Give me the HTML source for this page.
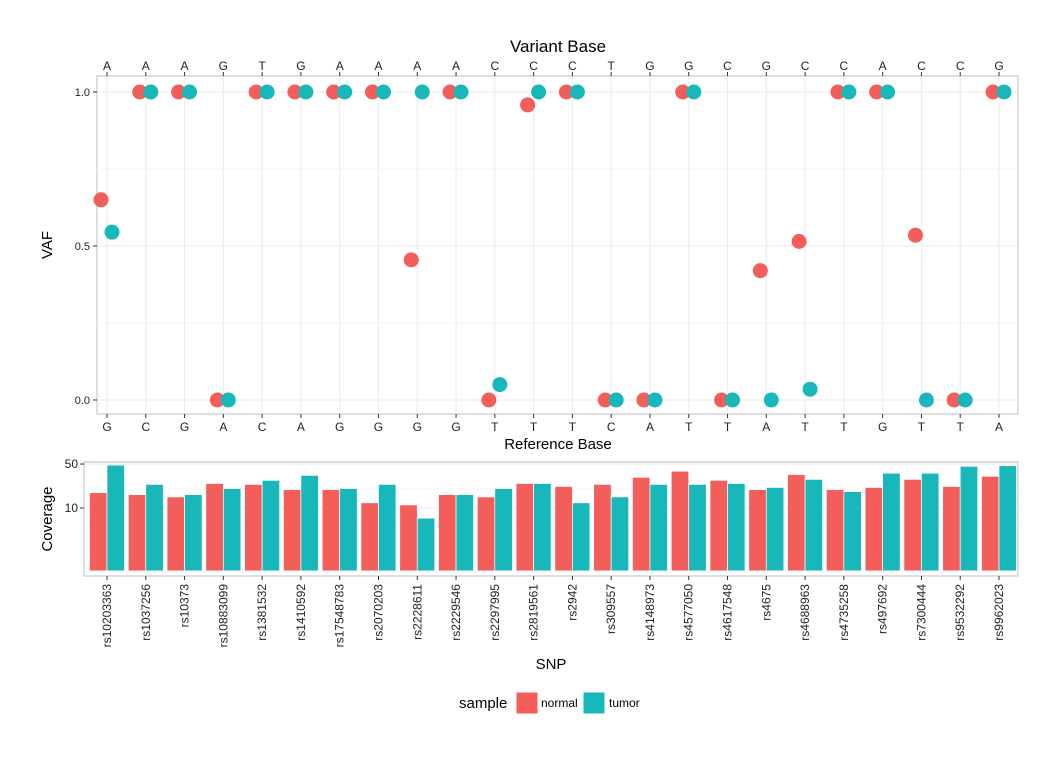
<!DOCTYPE html>
<html><head><meta charset="utf-8"><style>
body{margin:0;background:#fff;font-family:"Liberation Sans",sans-serif}
svg text{font-family:"Liberation Sans",sans-serif}
</style></head><body>
<svg id="c" width="1056" height="768"></svg>
<script>
const snps=["rs10203363","rs1037256","rs10373","rs10883099","rs1381532","rs1410592","rs17548783","rs2070203","rs2228611","rs2229546","rs2297995","rs2819561","rs2942","rs309557","rs4148973","rs4577050","rs4617548","rs4675","rs4688963","rs4735258","rs497692","rs7300444","rs9532292","rs9962023"];
const varBase=["A","A","A","G","T","G","A","A","A","A","C","C","C","T","G","G","C","G","C","C","A","C","C","G"];
const refBase=["G","C","G","A","C","A","G","G","G","G","T","T","T","C","A","T","T","A","T","T","G","T","T","A"];
const vafNormal=[0.65,1,1,0,1,1,1,1,0.455,1,0,0.958,1,0,0,1,0,0.42,0.515,1,1,0.535,0,1];
const vafTumor=[0.545,1,1,0,1,1,1,1,1,1,0.05,1,1,0,0,1,0,0,0.035,1,1,0,0,1];
const covNormal=[17.5,16.3,15,24.5,23.7,19.6,19.6,12.1,11.2,16.3,15,24.5,22,23.7,30.7,38.5,27.5,19.6,34,19.6,21.2,28.5,22,31.9];
const covTumor=[48,23.7,16.3,20.4,27.5,33,20.4,23.7,6.9,16.3,20.4,24.5,12.1,15,23.7,23.7,24.5,21.2,28.5,18.2,35.7,35.7,46,47];
const vafTicks=[0,0.5,1];
const covTicks=[10,50];
const RED="#F35E5A",TEAL="#17B7BA";
const svg=document.getElementById('c');const NS="http://www.w3.org/2000/svg";
function el(t,a,p){const e=document.createElementNS(NS,t);for(const k in a)e.setAttribute(k,a[k]);(p||svg).appendChild(e);return e;}
function tx(s,a,p){const e=el('text',a,p);e.textContent=s;return e;}
const xc=i=>107+i*(999-107)/23;
const yV=v=>400-v*308;
const yC=v=>508-62.9*Math.log10(v/10);
// top panel
const topG=el('g',{});


el('rect',{x:97,y:76,width:921,height:338,fill:"#fff",stroke:"#bdbdbd"},topG);
[0.25,0.75].forEach(v=>el('line',{x1:97,x2:1018,y1:yV(v),y2:yV(v),stroke:"#f5f5f5"},topG));
vafTicks.forEach(v=>{el('line',{x1:97,x2:1018,y1:yV(v),y2:yV(v),stroke:"#ebebeb"},topG);
 el('line',{x1:93,x2:97,y1:yV(v),y2:yV(v),stroke:"#333"},topG);
 const t=tx(v.toFixed(1),{x:90,y:yV(v)+4,'text-anchor':'end','font-size':11,fill:"#222"},topG);
 
 });
snps.forEach((s,i)=>{const x=xc(i);
 el('line',{x1:x,x2:x,y1:76,y2:414,stroke:"#ebebeb"},topG);
 el('line',{x1:x,x2:x,y1:72,y2:76,stroke:"#333"},topG);
 el('line',{x1:x,x2:x,y1:414,y2:418,stroke:"#333"},topG);
 const a=tx(varBase[i],{x:x,y:70,'text-anchor':'middle','font-size':12,fill:"#222"},topG);
 
 
 const b=tx(refBase[i],{x:x,y:431,'text-anchor':'middle','font-size':12,fill:"#222"},topG);
 
 
});
snps.forEach((s,i)=>{const x=xc(i);
 const p=el('circle',{cx:x-6,cy:yV(vafNormal[i]),r:7.5,fill:RED},topG);
 
 
 const q=el('circle',{cx:x+5,cy:yV(vafTumor[i]),r:7.5,fill:TEAL},topG);
 
 
});
let t=tx("Variant Base",{x:558,y:52,'text-anchor':'middle','font-size':17,fill:"#000"});


t=tx("Reference Base",{x:558,y:449,'text-anchor':'middle','font-size':15,fill:"#000"});


t=tx("VAF",{x:52,y:245,'text-anchor':'middle','font-size':15,fill:"#000",transform:"rotate(-90 52 245)"});


// bottom panel
const botG=el('g',{});


el('rect',{x:84,y:462,width:934,height:114,fill:"#fff",stroke:"#bdbdbd"},botG);
[1,5,20].forEach(v=>el('line',{x1:84,x2:1018,y1:yC(v),y2:yC(v),stroke:"#f5f5f5"},botG));
covTicks.forEach(v=>{el('line',{x1:84,x2:1018,y1:yC(v),y2:yC(v),stroke:"#ebebeb"},botG);
 el('line',{x1:80,x2:84,y1:yC(v),y2:yC(v),stroke:"#333"},botG);
 const t=tx(String(v),{x:78,y:yC(v)+4,'text-anchor':'end','font-size':12,fill:"#222"},botG);
 
 });
const base=yC(1);
snps.forEach((s,i)=>{const x=xc(i);
 const r1=el('rect',{x:x-17.5,y:yC(covNormal[i]),width:17.5,height:base-yC(covNormal[i]),fill:RED,stroke:"#fff","stroke-width":0.7},botG);
 
 
 const r2=el('rect',{x:x,y:yC(covTumor[i]),width:17.5,height:base-yC(covTumor[i]),fill:TEAL,stroke:"#fff","stroke-width":0.7},botG);
 
 
 el('line',{x1:x,x2:x,y1:576,y2:580,stroke:"#333"},botG);
 const l=tx(s,{x:x+4,y:584,'text-anchor':'end','font-size':12,fill:"#222",transform:`rotate(-90 ${x+4} 584)`},botG);
 
 
});
t=tx("Coverage",{x:52,y:519,'text-anchor':'middle','font-size':15,fill:"#000",transform:"rotate(-90 52 519)"});


t=tx("SNP",{x:551,y:669,'text-anchor':'middle','font-size':15,fill:"#000"});


// legend
const lg=el('g',{});


tx("sample",{x:459,y:708,'font-size':15,fill:"#000"},lg);
el('rect',{x:516,y:692,width:22,height:22,fill:RED,stroke:"#fff"},lg);
tx("normal",{x:541,y:707,'font-size':12,fill:"#000"},lg);
el('rect',{x:583,y:692,width:22,height:22,fill:TEAL,stroke:"#fff"},lg);
tx("tumor",{x:609,y:707,'font-size':12,fill:"#000"},lg);
</script>
</body></html>
